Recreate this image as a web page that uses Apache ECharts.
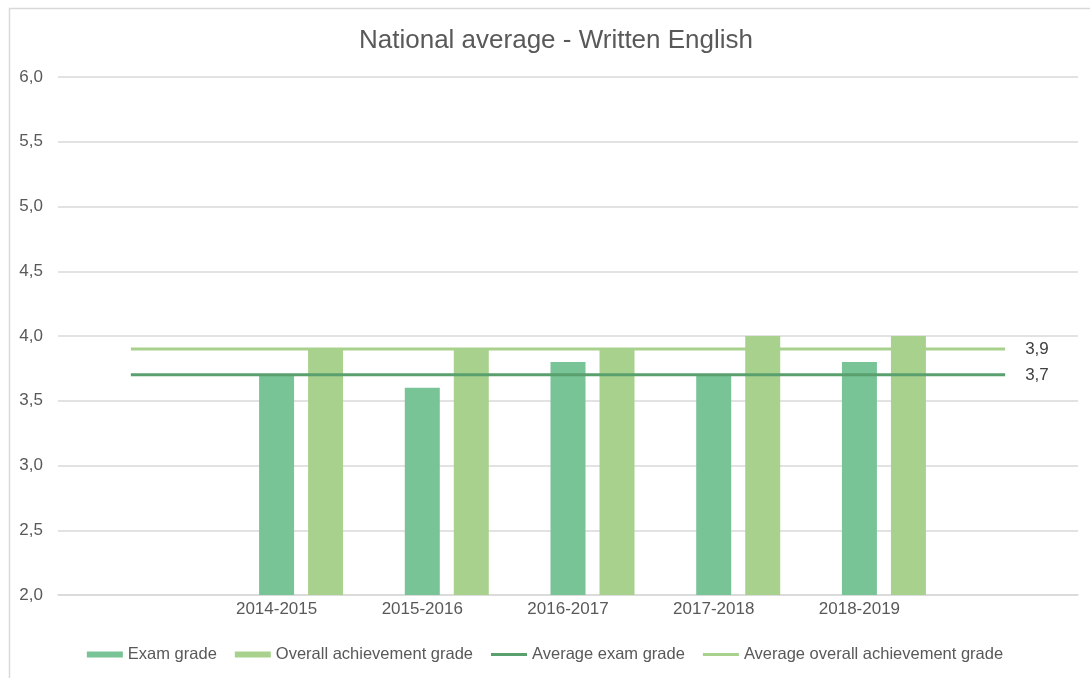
<!DOCTYPE html>
<html>
<head>
<meta charset="utf-8">
<script src="https://cdn.jsdelivr.net/npm/echarts@6/dist/echarts.min.js"></script>
<style>
  html, body { margin: 0; padding: 0; background: #fff; }
  #chart { width: 1090px; height: 678px; }
</style>
</head>
<body>
<div id="chart"></div>
<script>
// School years (empty slots at both ends give the average lines room past the bars)
const categories = ['', '2014-2015', '2015-2016', '2016-2017', '2017-2018', '2018-2019', ''];
const examGrade = [null, 3.7, 3.6, 3.8, 3.7, 3.8, null];
const overallGrade = [null, 3.9, 3.9, 3.9, 4.0, 4.0, null];
const averageExam = 3.7;
const averageOverall = 3.9;
const yTicks = { min: 2.0, max: 6.0, step: 0.5 };

const FONT = '"Liberation Sans", Arial, sans-serif';
const TEXT = '#595959';
const C_EXAM = '#78c497';
const C_OVERALL = '#a9d18e';
const C_AVG_EXAM = '#5aa06e';
const C_AVG_OVERALL = '#a9d18e';

const fmt = v => v.toFixed(1).replace('.', ',');

// thin bar legend swatch for the line series (tiny corner marks fix the box size)
const LINE_ICON = 'path://M0,0L0.01,0M36,6L36.01,6M0,1.5L36,1.5L36,4.5L0,4.5Z';

function endLabel(value) {
  return {
    show: true, distance: 20, formatter: fmt(value),
    color: '#404040', fontSize: 17, fontFamily: FONT
  };
}

const chart = echarts.init(document.getElementById('chart'));
chart.setOption({
  backgroundColor: '#fff',
  animation: false,
  textStyle: { fontFamily: FONT },
  graphic: [{
    type: 'rect', left: 7, top: 6, silent: true,
    shape: { width: 1200, height: 800 },
    style: { fill: 'none', stroke: '#d9d9d9', lineWidth: 1.5 }
  }],
  title: {
    text: 'National average - Written English',
    left: 551, textAlign: 'center', top: 23,
    textStyle: { fontFamily: FONT, fontSize: 26, fontWeight: 'normal', color: TEXT }
  },
  legend: {
    top: 641, left: 'center',
    itemGap: 18, itemWidth: 36, itemHeight: 6,
    textStyle: { fontFamily: FONT, fontSize: 16.5, color: TEXT },
    data: [
      { name: 'Exam grade', icon: 'rect' },
      { name: 'Overall achievement grade', icon: 'rect' },
      { name: 'Average exam grade', icon: LINE_ICON },
      { name: 'Average overall achievement grade', icon: LINE_ICON }
    ]
  },
  grid: { left: 58, right: 12, top: 77, bottom: 83 },
  xAxis: {
    type: 'category',
    data: categories,
    axisLine: { show: true, lineStyle: { color: '#d9d9d9', width: 1.5 } },
    axisTick: { show: false },
    axisLabel: { color: TEXT, fontSize: 17, fontFamily: FONT, margin: 6, interval: 0 }
  },
  yAxis: {
    type: 'value',
    min: yTicks.min, max: yTicks.max, interval: yTicks.step,
    axisLine: { show: false },
    axisTick: { show: false },
    axisLabel: { color: TEXT, fontSize: 17, fontFamily: FONT, margin: 15, formatter: fmt },
    splitLine: { lineStyle: { color: '#d9d9d9', width: 1.5 } }
  },
  series: [
    {
      // empty leading slot so the exam bar sits on the category centre
      name: 'spacer', type: 'bar', data: categories.map(() => null),
      barWidth: 35, barGap: '40%', silent: true
    },
    {
      name: 'Exam grade', type: 'bar', data: examGrade,
      barWidth: 35, barGap: '40%',
      itemStyle: { color: C_EXAM }
    },
    {
      name: 'Overall achievement grade', type: 'bar', data: overallGrade,
      barWidth: 35, barGap: '40%',
      itemStyle: { color: C_OVERALL }
    },
    {
      name: 'Average overall achievement grade', type: 'line',
      data: categories.map(() => averageOverall),
      symbol: 'none', z: 5,
      lineStyle: { color: C_AVG_OVERALL, width: 3 },
      itemStyle: { color: C_AVG_OVERALL },
      endLabel: endLabel(averageOverall)
    },
    {
      name: 'Average exam grade', type: 'line',
      data: categories.map(() => averageExam),
      symbol: 'none', z: 6,
      lineStyle: { color: C_AVG_EXAM, width: 3 },
      itemStyle: { color: C_AVG_EXAM },
      endLabel: endLabel(averageExam)
    }
  ]
});
</script>
</body>
</html>
